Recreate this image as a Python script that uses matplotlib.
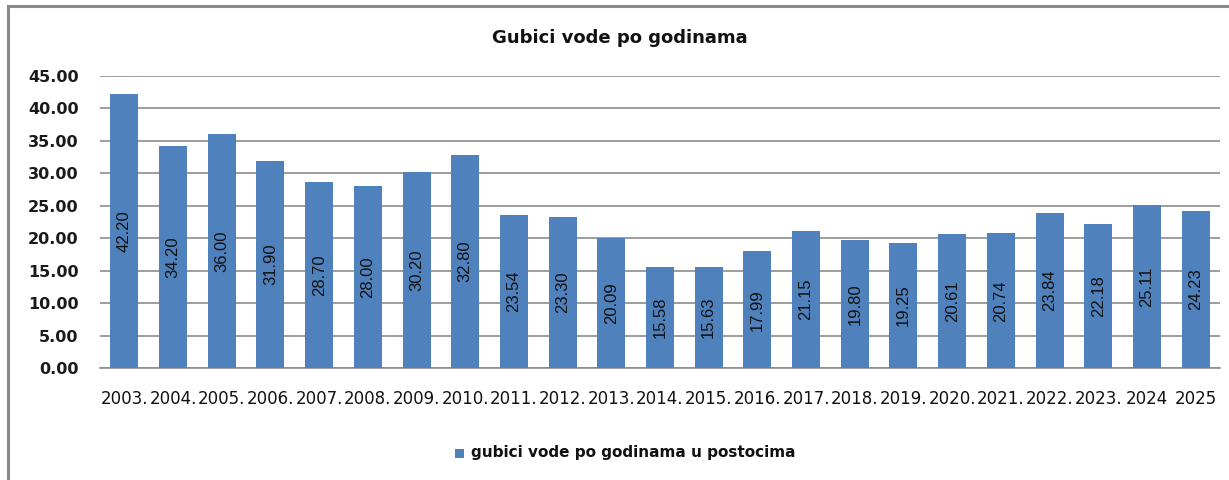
import matplotlib
matplotlib.use("Agg")
import matplotlib.pyplot as plt
from matplotlib.patches import Rectangle

years = ["2003.", "2004.", "2005.", "2006.", "2007.", "2008.", "2009.", "2010.",
         "2011.", "2012.", "2013.", "2014.", "2015.", "2016.", "2017.", "2018.",
         "2019.", "2020.", "2021.", "2022.", "2023.", "2024", "2025"]
losses = [42.20, 34.20, 36.00, 31.90, 28.70, 28.00, 30.20, 32.80, 23.54, 23.30,
          20.09, 15.58, 15.63, 17.99, 21.15, 19.80, 19.25, 20.61, 20.74, 23.84,
          22.18, 25.11, 24.23]
yticks = [0, 5, 10, 15, 20, 25, 30, 35, 40, 45]
title = "Gubici vode po godinama"
legend_label = "gubici vode po godinama u postocima"

W, H = 1229, 480
fig = plt.figure(figsize=(W / 100, H / 100), dpi=100)
fig.patch.set_facecolor("white")

# outer chart frame
fig.add_artist(Rectangle((8 / W, -0.1), 1.2, (H - 6) / H + 0.1,
                         transform=fig.transFigure, fill=False,
                         edgecolor="#8a8a8a", linewidth=2.2))

ax = fig.add_axes([100 / W, 112 / H, 1120 / W, 292 / H])
x = list(range(len(years)))
bar_color = "#4F81BD"
ax.bar(x, losses, width=0.575, color=bar_color, zorder=3)
ax.set_xlim(-0.5, len(years) - 0.5)
ax.set_ylim(0, 45)
ax.set_yticks(yticks)
ax.set_yticklabels([f"{v:.2f}" for v in yticks])
ax.set_xticks(x)
ax.set_xticklabels(years)
ax.yaxis.grid(True, color="#8c8c8c", linewidth=1.2, zorder=0)
ax.set_axisbelow(True)
for s in ["top", "right", "left"]:
    ax.spines[s].set_visible(False)
ax.spines["bottom"].set_color("#8c8c8c")
ax.spines["bottom"].set_linewidth(1.2)
ax.tick_params(axis="both", length=0)
ax.tick_params(axis="y", pad=15.5)
ax.tick_params(axis="x", pad=16)

for lab in ax.get_yticklabels():
    lab.set_fontfamily("DejaVu Sans")
    lab.set_fontweight("bold")
    lab.set_fontsize(11.5)
    lab.set_color("#1a1a1a")
for lab in ax.get_xticklabels():
    lab.set_fontfamily("DejaVu Sans")
    lab.set_fontsize(12)
    lab.set_color("#111111")

for xi, v in zip(x, losses):
    ax.text(xi, v / 2, f"{v:.2f}", rotation=90, ha="center", va="center",
            fontsize=12, color="#111111",
            family=["Liberation Sans", "DejaVu Sans"], zorder=4)

fig.text(620 / W, 1 - 38 / H, title, ha="center", va="center",
         fontsize=13, fontweight="bold", family="DejaVu Sans",
         color="#111111")

# legend
fig.add_artist(Rectangle((455 / W, 1 - 458 / H), 9 / W, 9 / H,
                         transform=fig.transFigure, facecolor=bar_color,
                         edgecolor="none"))
fig.text(471 / W, 1 - 453 / H, legend_label, ha="left", va="center",
         fontsize=11, fontweight="bold", family="DejaVu Sans",
         color="#111111")

fig.savefig("out.png", dpi=100)
